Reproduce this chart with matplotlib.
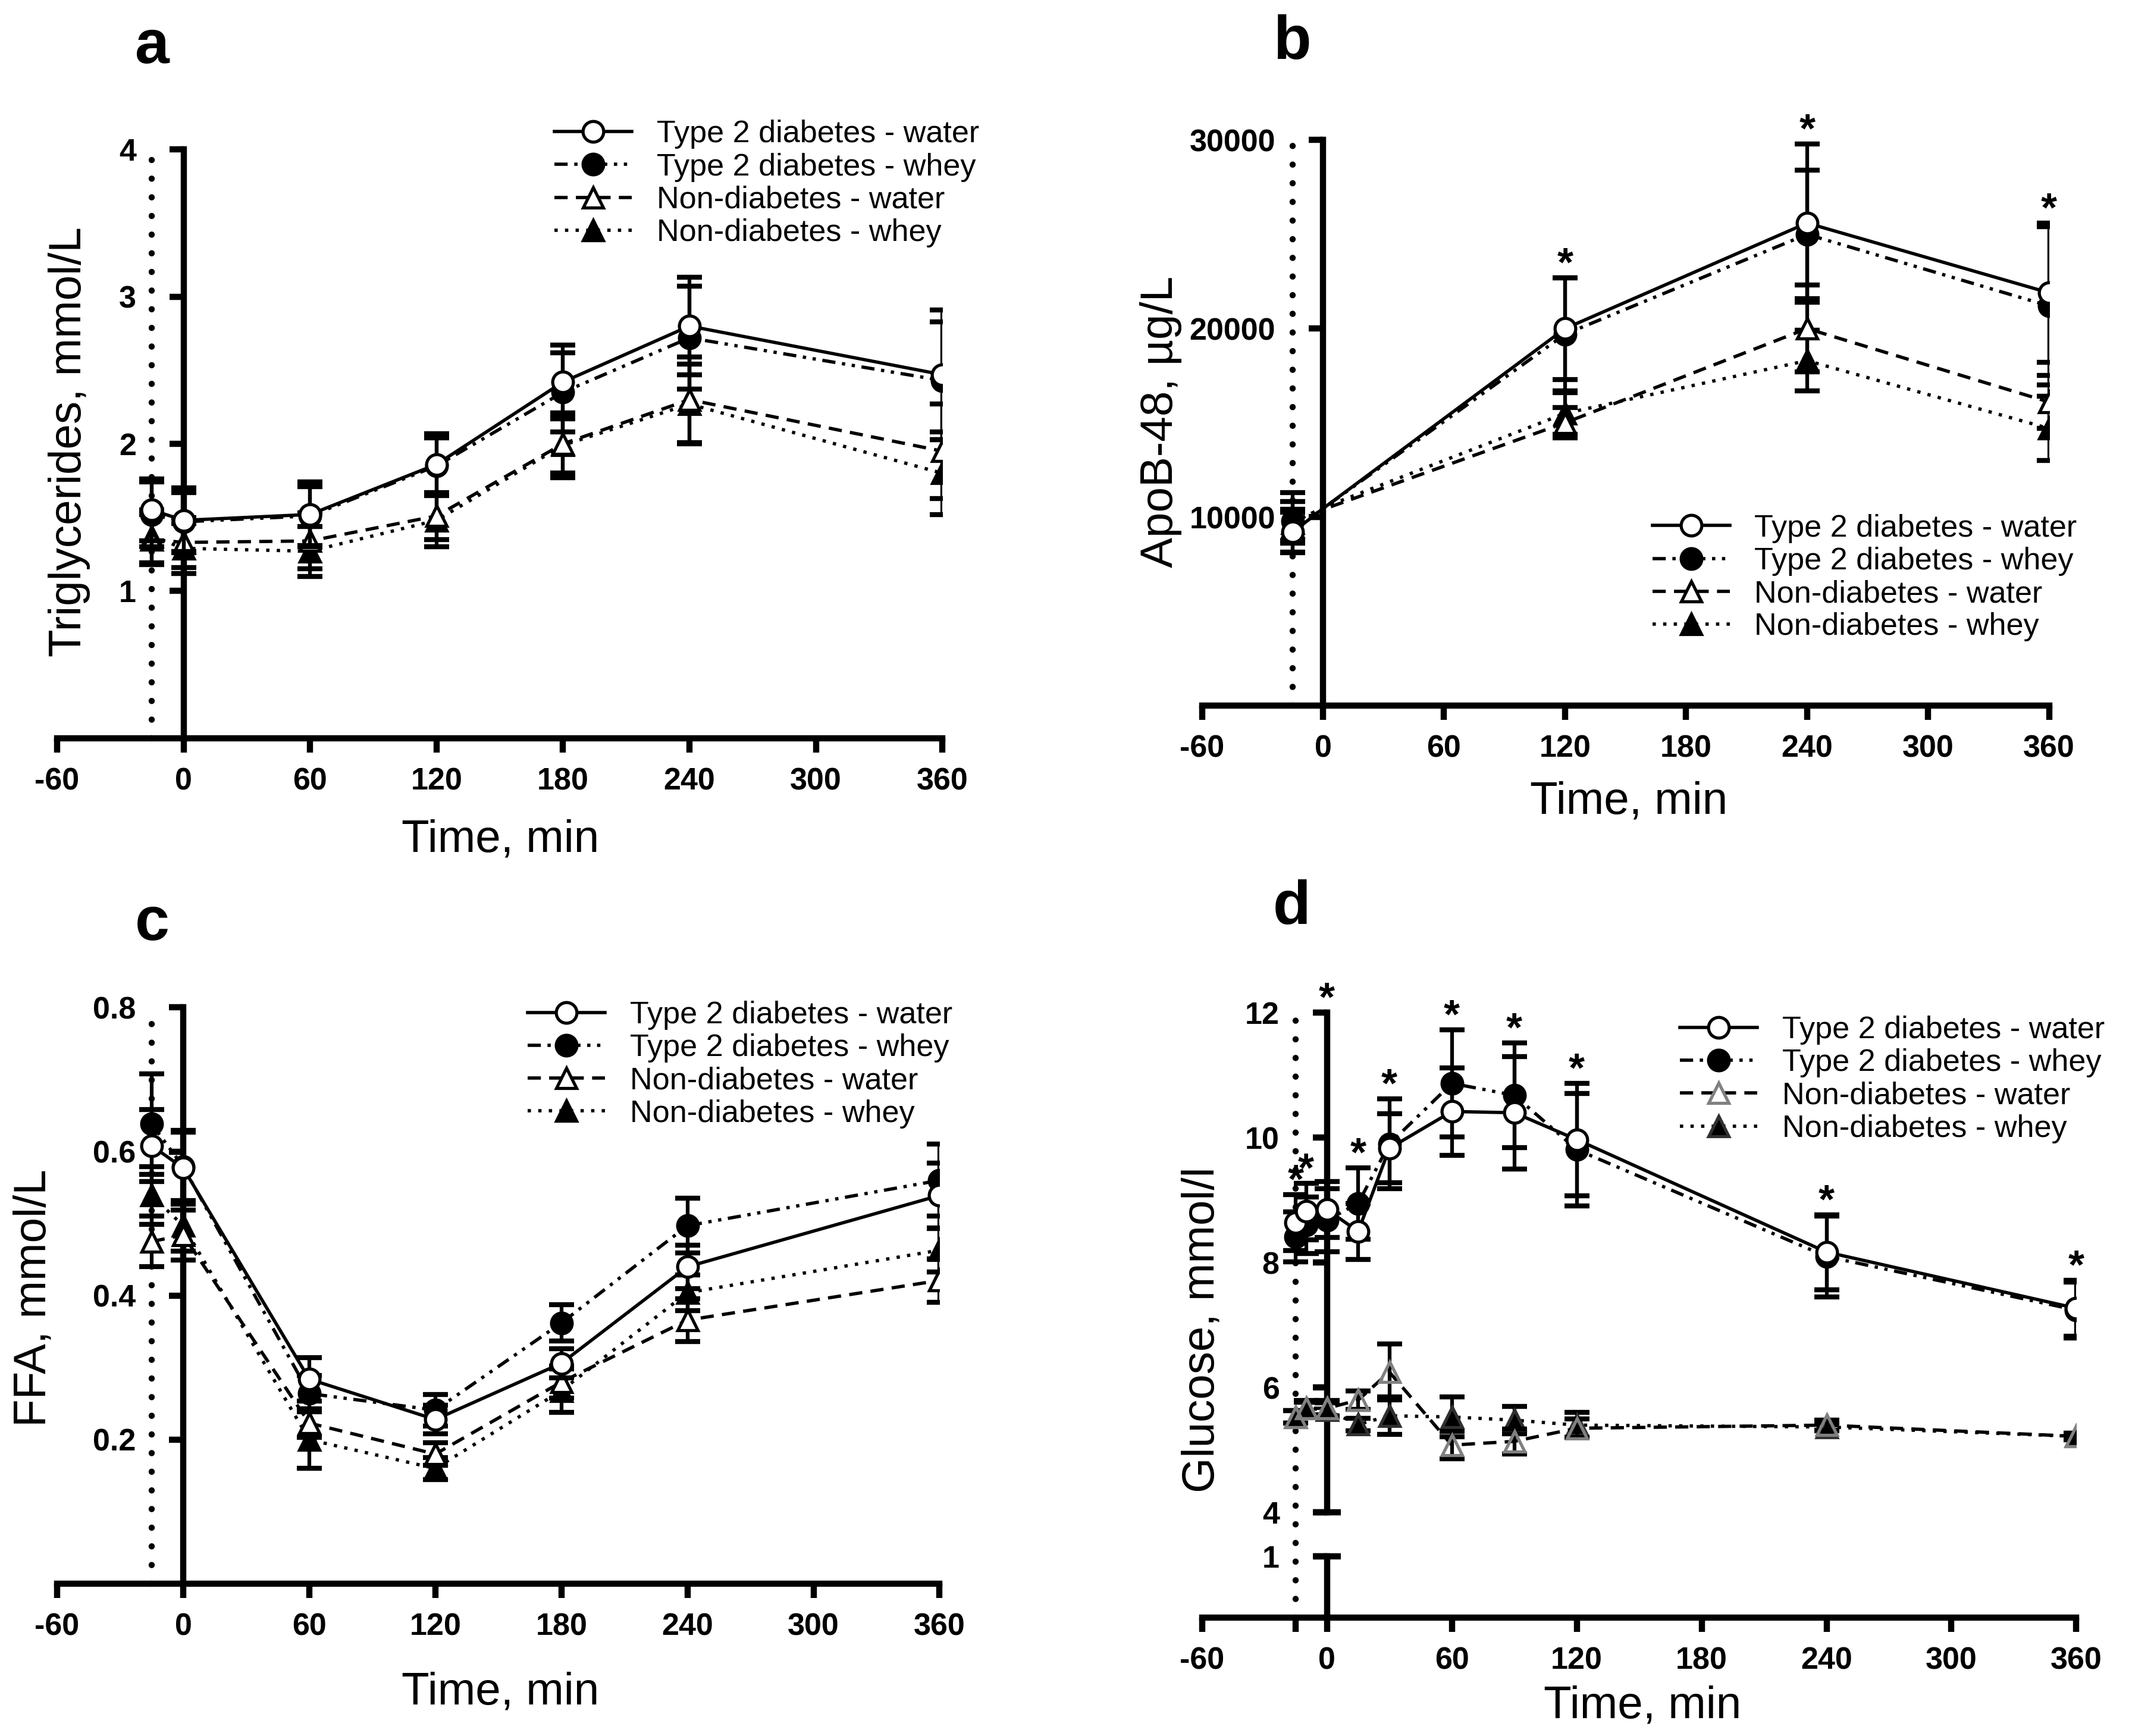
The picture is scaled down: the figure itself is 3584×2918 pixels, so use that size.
import numpy as np
import matplotlib
matplotlib.use("Agg")
import matplotlib.pyplot as plt
from matplotlib.transforms import blended_transform_factory

plt.rcParams['font.family'] = ['Liberation Sans', 'DejaVu Sans']
plt.rcParams['axes.unicode_minus'] = False

# ---------------- data ----------------
labels = ["Type 2 diabetes - water", "Type 2 diabetes - whey",
          "Non-diabetes - water", "Non-diabetes - whey"]
x_ticks = [-60, 0, 60, 120, 180, 240, 300, 360]
meal_time = -15

# a: triglycerides (mmol/L)
tg_time = [-15, 0, 60, 120, 180, 240, 360]
tg_t2d_water = [1.55, 1.48, 1.52, 1.86, 2.42, 2.80, 2.47]
tg_t2d_water_sem = [0.21, 0.22, 0.22, 0.21, 0.25, 0.33, 0.44]
tg_t2d_whey = [1.52, 1.47, 1.51, 1.85, 2.35, 2.72, 2.43]
tg_t2d_whey_sem = [0.22, 0.20, 0.20, 0.19, 0.27, 0.35, 0.40]
tg_nd_water = [1.35, 1.33, 1.34, 1.51, 2.00, 2.30, 1.95]
tg_nd_water_sem = [0.17, 0.17, 0.19, 0.16, 0.20, 0.29, 0.32]
tg_nd_whey = [1.37, 1.29, 1.27, 1.48, 1.99, 2.27, 1.80]
tg_nd_whey_sem = [0.18, 0.17, 0.17, 0.18, 0.22, 0.27, 0.28]

# b: ApoB-48 (ug/L); value at 0 min has no marker in the figure
apob_time = [-15, 0, 120, 240, 360]
apob_t2d_water = [9200, 10450, 20000, 25600, 21900]
apob_t2d_water_sem = [1060, np.nan, 2700, 4200, 3700]
apob_t2d_whey = [9790, 10450, 19700, 25000, 21200]
apob_t2d_whey_sem = [1040, np.nan, 3000, 3400, 4200]
apob_nd_water = [9500, 10400, 15000, 20000, 16100]
apob_nd_water_sem = [900, np.nan, 800, 2300, 1400]
apob_nd_whey = [9700, 10500, 15500, 18300, 14700]
apob_nd_whey_sem = [1600, np.nan, 1100, 1600, 1700]
apob_stars = [120, 240, 360]

# c: FFA (mmol/L)
ffa_time = [-15, 0, 60, 120, 180, 240, 360]
ffa_t2d_water = [0.608, 0.577, 0.284, 0.228, 0.306, 0.440, 0.539]
ffa_t2d_water_sem = [0.05, 0.05, 0.03, 0.02, 0.02, 0.03, 0.045]
ffa_t2d_whey = [0.638, 0.579, 0.264, 0.241, 0.362, 0.497, 0.560]
ffa_t2d_whey_sem = [0.07, 0.05, 0.025, 0.022, 0.025, 0.038, 0.05]
ffa_nd_water = [0.475, 0.484, 0.223, 0.180, 0.280, 0.366, 0.421]
ffa_nd_water_sem = [0.035, 0.035, 0.02, 0.016, 0.022, 0.03, 0.03]
ffa_nd_whey = [0.539, 0.497, 0.200, 0.160, 0.268, 0.404, 0.463]
ffa_nd_whey_sem = [0.04, 0.035, 0.04, 0.015, 0.03, 0.025, 0.03]

# d: glucose (mmol/l)
glu_time = [-15, -10, 0, 15, 30, 60, 90, 120, 240, 360]
glu_t2d_water = [8.64, 8.82, 8.85, 8.50, 9.83, 10.42, 10.40, 9.97, 8.17, 7.27]
glu_t2d_water_sem = [0.45, 0.45, 0.45, 0.45, 0.55, 0.70, 0.90, 0.90, 0.60, 0.45]
glu_t2d_whey = [8.41, 8.60, 8.68, 8.95, 9.90, 10.87, 10.68, 9.81, 8.10, 7.24]
glu_t2d_whey_sem = [0.40, 0.45, 0.50, 0.57, 0.72, 0.86, 0.84, 0.90, 0.65, 0.45]
glu_nd_water = [5.53, 5.67, 5.67, 5.80, 6.25, 5.08, 5.14, 5.35, 5.40, 5.22]
glu_nd_water_sem = [0.10, 0.12, 0.12, 0.15, 0.45, 0.22, 0.20, 0.15, 0.08, 0.05]
glu_nd_whey = [5.53, 5.67, 5.64, 5.41, 5.55, 5.53, 5.48, 5.40, 5.37, 5.22]
glu_nd_whey_sem = [0.10, 0.10, 0.12, 0.10, 0.30, 0.32, 0.22, 0.20, 0.06, 0.05]
glu_stars = [-15, -10, 0, 15, 30, 60, 90, 120, 240, 360]

# ---------------- style ----------------
SPINE_W = 3.0
TICK_FS = 15
LABEL_FS = 22
styles = [
    dict(marker='o', mfc='white', mec='black', ls='-', zorder=6),
    dict(marker='o', mfc='black', mec='black', dashes=(4, 2, 1, 2, 1, 2), zorder=5),
    dict(marker='^', mfc='white', mec='black', dashes=(4, 2.5), zorder=4),
    dict(marker='^', mfc='black', mec='black', dashes=(1, 2.2), zorder=3),
]

fig = plt.figure(figsize=(14.336, 11.672), dpi=250)


def setup_axes(ax, ylim, yticks, show_x=True):
    ax.set_xlim(-60, 360)
    ax.set_ylim(*ylim)
    ax.spines['left'].set_position(('data', 0))
    ax.spines['top'].set_visible(False)
    ax.spines['right'].set_visible(False)
    for s in ['left', 'bottom']:
        ax.spines[s].set_linewidth(SPINE_W)
    ax.set_yticks(yticks)
    ax.set_xticks(x_ticks)
    ax.tick_params(axis='y', direction='out', length=7, width=SPINE_W,
                   labelsize=TICK_FS, pad=16)
    ax.tick_params(axis='x', direction='out', length=7, width=SPINE_W,
                   labelsize=TICK_FS, pad=7)
    if not show_x:
        ax.spines['bottom'].set_visible(False)
        ax.tick_params(axis='x', bottom=False, labelbottom=False)
    for lab in ax.get_xticklabels() + ax.get_yticklabels():
        lab.set_fontweight('bold')
    ax.patch.set_visible(False)


def draw_series(ax, t, series, sems, hide_idx=None, nd_water_grey=False):
    for i, (y, e) in enumerate(zip(series, sems)):
        st = dict(styles[i])
        z = st.pop('zorder')
        ax.errorbar(t, y, yerr=e, fmt='none', ecolor='black', elinewidth=1.8,
                    capsize=6, capthick=2.4, zorder=z - 0.5)
        if nd_water_grey and i == 2:
            st['mec'] = '#808080'
            st['mfc'] = 'none'
        if nd_water_grey and i == 3:
            st['mec'] = '#303030'
        every = None
        if hide_idx is not None:
            every = [k for k in range(len(t)) if k != hide_idx]
        ax.plot(t, y, color='black', lw=1.6, ms=10, mew=1.5, markevery=every,
                label=labels[i], zorder=z, **st)


def add_stars(ax, t, series, sems, star_times, top_times=()):
    upper = np.nanmax(np.array(series) + np.nan_to_num(np.array(sems)), axis=0)
    for st in star_times:
        k = list(t).index(st)
        y = ax.get_ylim()[1] if st in top_times else upper[k]
        ax.annotate('*', (st, y), xytext=(0, 1), textcoords='offset points',
                    ha='center', va='baseline', fontsize=20, fontweight='bold',
                    annotation_clip=False)


def meal_line(ax, y0, y1, transform=None):
    kw = {} if transform is None else {'transform': transform}
    ax.plot([meal_time, meal_time], [y0, y1], color='black', lw=3,
            ls=(0, (0.01, 3)), dash_capstyle='round', clip_on=False, zorder=1, **kw)


def add_legend(ax, x, y):
    ax.legend(loc='upper left', bbox_to_anchor=(x, y), bbox_transform=fig.transFigure,
              frameon=False, fontsize=15, handlelength=2.5, handletextpad=0.8,
              labelspacing=0.12, borderpad=0, borderaxespad=0, numpoints=1)


def panel_text(letter, x, y):
    fig.text(x, y, letter, fontsize=30, fontweight='bold', ha='center', va='center')


def axis_labels(xl, yl, ytext):
    fig.text(xl[0], xl[1], 'Time, min', fontsize=LABEL_FS, ha='center', va='center')
    fig.text(yl[0], yl[1], ytext, fontsize=LABEL_FS, ha='center', va='center', rotation=90)


# ---- a ----
ax_a = fig.add_axes([0.0268, 0.5748, 0.4152, 0.3391])
setup_axes(ax_a, (0, 4), [1, 2, 3, 4])
meal_line(ax_a, 0, 4)
draw_series(ax_a, tg_time, [tg_t2d_water, tg_t2d_whey, tg_nd_water, tg_nd_whey],
            [tg_t2d_water_sem, tg_t2d_whey_sem, tg_nd_water_sem, tg_nd_whey_sem])
add_legend(ax_a, 0.260, 0.931)
panel_text('a', 0.0714, 0.9726)
axis_labels((0.2347, 0.5161), (0.0325, 0.7455), 'Triglycerides, mmol/L')

# ---- b ----
ax_b = fig.add_axes([0.5638, 0.5936, 0.3973, 0.3257])
setup_axes(ax_b, (0, 30000), [10000, 20000, 30000])
meal_line(ax_b, 0, 30000)
b_series = [apob_t2d_water, apob_t2d_whey, apob_nd_water, apob_nd_whey]
b_sems = [apob_t2d_water_sem, apob_t2d_whey_sem, apob_nd_water_sem, apob_nd_whey_sem]
draw_series(ax_b, apob_time, b_series, b_sems, hide_idx=1)
add_stars(ax_b, apob_time, b_series, b_sems, apob_stars)
add_legend(ax_b, 0.775, 0.704)
panel_text('b', 0.6060, 0.975)
axis_labels((0.764, 0.538), (0.5445, 0.7572), 'ApoB-48, µg/L')

# ---- c ----
ax_c = fig.add_axes([0.0268, 0.0877, 0.4139, 0.3320])
setup_axes(ax_c, (0, 0.8), [0.2, 0.4, 0.6, 0.8])
ax_c.set_yticklabels(['0.2', '0.4', '0.6', '0.8'], fontweight='bold')
meal_line(ax_c, 0, 0.8)
draw_series(ax_c, ffa_time, [ffa_t2d_water, ffa_t2d_whey, ffa_nd_water, ffa_nd_whey],
            [ffa_t2d_water_sem, ffa_t2d_whey_sem, ffa_nd_water_sem, ffa_nd_whey_sem])
add_legend(ax_c, 0.2474, 0.4236)
panel_text('c', 0.0714, 0.4675)
axis_labels((0.2347, 0.0251), (0.0159, 0.2522), 'FFA, mmol/L')

# ---- d (broken y axis) ----
ax_d = fig.add_axes([0.5638, 0.1287, 0.4101, 0.2879])
ax_d0 = fig.add_axes([0.5638, 0.0681, 0.4101, 0.0353])
setup_axes(ax_d, (4, 12), [4, 6, 8, 10, 12], show_x=False)
setup_axes(ax_d0, (0, 1), [1])
ax_d0.set_xticks([meal_time], minor=True)
ax_d0.tick_params(axis='x', which='minor', direction='out', length=7, width=SPINE_W)
for a_, yb in [(ax_d, 4), (ax_d0, 1)]:
    a_.plot([0], [yb], marker='_', ms=13, mew=SPINE_W, color='black', clip_on=False, zorder=7)
trans = blended_transform_factory(ax_d.transData, fig.transFigure)
meal_line(ax_d, 0.0681, 0.4166, transform=trans)
d_series = [glu_t2d_water, glu_t2d_whey, glu_nd_water, glu_nd_whey]
d_sems = [glu_t2d_water_sem, glu_t2d_whey_sem, glu_nd_water_sem, glu_nd_whey_sem]
draw_series(ax_d, glu_time, d_series, d_sems, nd_water_grey=True)
add_stars(ax_d, glu_time, d_series, d_sems, glu_stars, top_times=(0,))
add_legend(ax_d, 0.788, 0.415)
panel_text('d', 0.6060, 0.4769)
axis_labels((0.7704, 0.0172), (0.5640, 0.2341), 'Glucose, mmol/l')

fig.savefig('out.png', dpi=250)
